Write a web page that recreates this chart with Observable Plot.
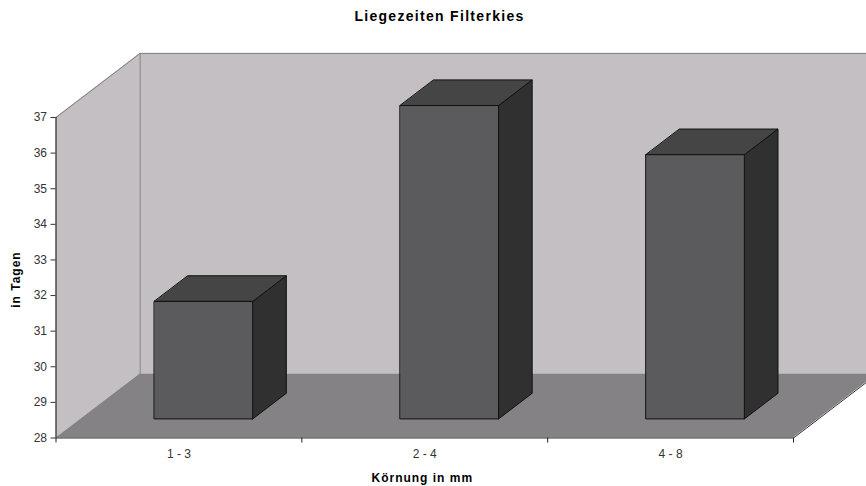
<!DOCTYPE html>
<html lang="de">
<head>
<meta charset="utf-8">
<script src="https://cdn.jsdelivr.net/npm/d3@7"></script>
<script src="https://cdn.jsdelivr.net/npm/@observablehq/plot@0.6"></script>
<style>
html,body{margin:0;padding:0;background:#fff;overflow:hidden;width:866px;height:486px}
#title{height:34px;box-sizing:border-box;padding-top:8px;padding-left:13px;text-align:center;font:bold 14px/16px "Liberation Sans",Arial,sans-serif;color:#000;letter-spacing:1.3px}
svg{display:block;overflow:hidden}
g[aria-label="text"] text{letter-spacing:1px}
</style>
</head>
<body>
<div id="title">Liegezeiten Filterkies</div>
<div id="chart"></div>
<script>
const categories = ["1 - 3", "2 - 4", "4 - 8"];
const values = [31.3, 36.8, 35.42];
const yTicks = [28, 29, 30, 31, 32, 33, 34, 35, 36, 37];
const yTitle = "in Tagen";
const xTitle = "Körnung in mm";

// pseudo-3D projection, in data units
const depthX = 0.342, depthY = 1.8;
const yMin = 28, yMax = 37, n = categories.length;
const barStart = 0.303, barEnd = 0.703;
const barLift = 0.29, barDepth = 0.40;

const pt = (x, y, t = 0) => [x + depthX * t, y + depthY * t];
function quad(a, b, c, d, options) {
  return Plot.area([{p: a, q: d}, {p: b, q: c}], {
    x1: r => r.p[0], y1: r => r.p[1],
    x2: r => r.q[0], y2: r => r.q[1],
    curve: "linear", ...options
  });
}
const line = (pts, options) => Plot.line(pts, {x: p => p[0], y: p => p[1], curve: "linear", ...options});

const wall = "#c3bfc3", floorC = "#858285", edge = "#7f7d7f";
const marks = [
  quad(pt(0, yMin), pt(0, yMin, 1), pt(0, yMax, 1), pt(0, yMax), {fill: wall}),
  quad(pt(0, yMin, 1), pt(n, yMin, 1), pt(n, yMax, 1), pt(0, yMax, 1), {fill: wall}),
  quad(pt(0, yMin), pt(n, yMin), pt(n, yMin, 1), pt(0, yMin, 1), {fill: floorC}),
  line([pt(0, yMax), pt(0, yMax, 1), pt(n, yMax, 1)], {stroke: edge, strokeWidth: 1}),
  line([pt(0, yMin, 1), pt(0, yMax, 1)], {stroke: edge, strokeWidth: 1}),
  line([pt(0, yMin), pt(n, yMin), pt(n, yMin, 1)], {stroke: "#333", strokeWidth: 1}),
  Plot.ruleX([0], {y1: yMin, y2: yMax, stroke: "#111"})
];

values.forEach((v, i) => {
  const x0 = i + barStart, x1 = i + barEnd;
  const b = yMin, t = v;
  const f = (x, y, d) => pt(x, y, barLift + d);
  const s = {stroke: "#111", strokeWidth: 1, strokeLinejoin: "round"};
  marks.push(
    quad(f(x1, b, 0), f(x1, b, barDepth), f(x1, t, barDepth), f(x1, t, 0), {fill: "#303030", ...s}),
    quad(f(x0, t, 0), f(x1, t, 0), f(x1, t, barDepth), f(x0, t, barDepth), {fill: "#454546", ...s}),
    quad(f(x0, b, 0), f(x1, b, 0), f(x1, t, 0), f(x0, t, 0), {fill: "#5b5b5d", ...s})
  );
});

marks.push(
  Plot.axisY({ticks: yTicks, tickSize: 5, tickPadding: 4, label: null, color: "#333",
              fontSize: 12, tickFormat: d => d}),
  Plot.axisX({ticks: d3.range(n + 1), tickSize: 5, tickFormat: () => "", label: null, color: "#222"}),
  Plot.axisX({ticks: categories.map((_, i) => i + 0.5), tickSize: 0, tickPadding: 11, label: null,
              color: "#333", fontSize: 12, tickFormat: d => categories[Math.floor(d)]}),
  Plot.text([xTitle], {x: 1.49, frameAnchor: "bottom", dy: 44, fontWeight: "bold", fontSize: 12, fill: "#000"}),
  Plot.text([yTitle], {y: 32.45, frameAnchor: "left", textAnchor: "middle", dx: -39.5, rotate: -90, fontWeight: "bold", fontSize: 12, fill: "#000"})
);

const topOffset = 34;
const chart = Plot.plot({
  width: 866,
  height: 452,
  marginLeft: 55.5,
  marginRight: 73,
  marginTop: 117 - topOffset,
  marginBottom: 452 - (437.5 - topOffset),
  style: {fontFamily: "'Liberation Sans', Arial, sans-serif", background: "#fff", overflow: "hidden"},
  x: {type: "linear", domain: [0, n]},
  y: {type: "linear", domain: [yMin, yMax]},
  marks
});
document.getElementById("chart").appendChild(chart);
</script>
</body>
</html>
